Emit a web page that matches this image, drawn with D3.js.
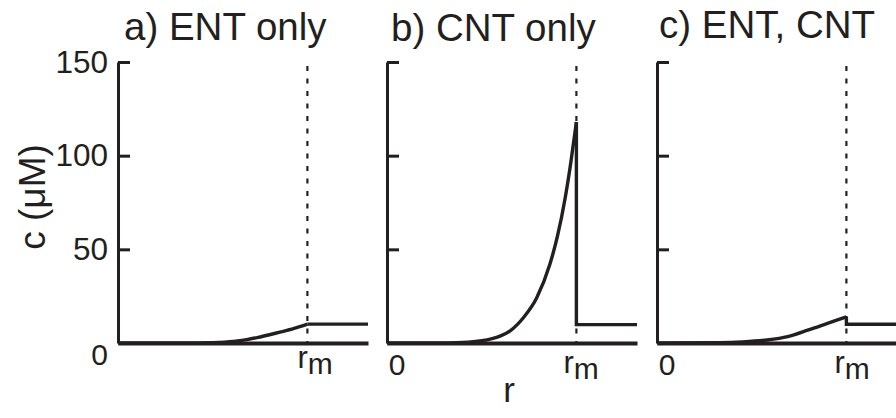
<!DOCTYPE html>
<html>
<head>
<meta charset="utf-8">
<script src="https://cdn.jsdelivr.net/npm/d3@7"></script>
<style>
  html, body { margin: 0; padding: 0; background: #fff; }
  svg { display: block; font-family: "Liberation Sans", Arial, Helvetica, sans-serif; }
</style>
</head>
<body>
<svg id="chart" width="896" height="418"></svg>
<script>
// ---- data (r in units of r_m, c in µM) ----
const panelTitles = ["a) ENT only", "b) CNT only", "c) ENT, CNT"];
const yTicks = [0, 50, 100, 150];
const rMax = 1.32;
const rM = 1.0;

const rA = [0, 0.34, 0.5, 0.61, 0.68, 0.74, 0.8, 0.86, 0.93, 1.0];
const cA = [0, 0, 0.2, 0.8, 1.8, 3.0, 4.4, 5.9, 7.8, 10.1];
const outsideA = 10.1;

const rB = [0, 0.26, 0.4, 0.5, 0.55, 0.6, 0.65, 0.72, 0.79, 0.86, 0.9, 0.94, 0.97, 1.0];
const cB = [0, 0, 0.3, 1.2, 2.2, 3.8, 6.5, 13.5, 24, 42, 57, 77, 96, 118];
const outsideB = 9.8;

const rC = [0, 0.33, 0.45, 0.58, 0.69, 0.8, 0.9, 1.0];
const cC = [0, 0.2, 0.6, 1.6, 3.4, 7, 10.5, 14];
const outsideC = 10.0;

const series = [
  { r: rA, c: cA, out: outsideA },
  { r: rB, c: cB, out: outsideB },
  { r: rC, c: cC, out: outsideC }
];

// ---- layout ----
const svg = d3.select("#chart");
const panelX0 = [118, 387, 657];
const panelW = 250;
const yTop = 62, yBot = 343;
const ink = "#231f20";

const y = d3.scaleLinear().domain([0, 150]).range([yBot, yTop]);

series.forEach((s, i) => {
  const x0 = panelX0[i];
  const x = d3.scaleLinear().domain([0, rMax]).range([x0, x0 + panelW]);
  const g = svg.append("g");

  // title
  const titleX = [124, 391, 659][i];
  const titleY = [40, 41, 38][i];
  g.append("text").attr("x", titleX).attr("y", titleY)
    .attr("font-size", 38.5).attr("fill", ink)
    .text(panelTitles[i]);

  // dashed r_m line
  g.append("line")
    .attr("x1", x(rM)).attr("x2", x(rM))
    .attr("y1", yTop + 4).attr("y2", yBot)
    .attr("stroke", ink).attr("stroke-width", 2.2)
    .attr("stroke-dasharray", "5,7.5");

  // y axis
  const yAxis = d3.axisLeft(y).tickValues(yTicks)
    .tickSizeInner(-12).tickSizeOuter(0).tickPadding(10)
    .tickFormat(i === 0 ? d3.format("d") : "");
  const ya = g.append("g").attr("transform", `translate(${x0},0)`).call(yAxis);
  ya.select(".domain").attr("stroke", ink).attr("stroke-width", 3);
  ya.selectAll(".tick line").attr("stroke", ink).attr("stroke-width", 3);
  ya.selectAll(".tick text").attr("font-size", 31.5).attr("fill", ink)
    .attr("font-family", "Liberation Sans, Arial, sans-serif");
  ya.selectAll(".tick").filter(d => d === 0).select("line").remove();
  ya.selectAll(".tick").filter(d => d === 0).select("text")
    .attr("dy", "0.72em").attr("font-size", 30);

  // x axis (baseline)
  const xAxis = d3.axisBottom(x).tickValues([]).tickSizeOuter(0);
  const xa = g.append("g").attr("transform", `translate(0,${yBot})`).call(xAxis);
  xa.select(".domain").attr("stroke", ink).attr("stroke-width", 4);

  // x labels
  if (i > 0) {
    g.append("text").attr("x", x(0) + 10).attr("y", 375)
      .attr("text-anchor", "middle").attr("font-size", 30).attr("fill", ink)
      .text("0");
  }
  const rmLabel = g.append("text").attr("x", x(rM) - [10, 13, 12][i]).attr("y", [368, 373, 373][i])
    .attr("font-size", 31).attr("fill", ink);
  rmLabel.append("tspan").text("r");
  rmLabel.append("tspan").attr("dy", 6).attr("font-size", 30).text("m");

  // curve inside
  const pts = s.r.map((r, k) => [r, s.c[k]]);
  const line = d3.line().x(d => x(d[0])).y(d => y(d[1])).curve(d3.curveMonotoneX);
  g.append("path").datum(pts).attr("d", line)
    .attr("fill", "none").attr("stroke", ink).attr("stroke-width", 3.4)
    .attr("stroke-linejoin", "round");

  // drop at r_m and flat outside
  const outPts = [[rM, s.c[s.c.length - 1]], [rM, s.out], [rMax, s.out]];
  g.append("path").datum(outPts)
    .attr("d", d3.line().x(d => x(d[0])).y(d => y(d[1])))
    .attr("fill", "none").attr("stroke", ink).attr("stroke-width", 3.4);
});

// y label
svg.append("text")
  .attr("transform", `translate(45,197) rotate(-90)`)
  .attr("text-anchor", "middle").attr("font-size", 37).attr("fill", ink)
  .text("c (\u03BCM)");

// x label
svg.append("text").attr("x", 509).attr("y", 402)
  .attr("text-anchor", "middle").attr("font-size", 35).attr("fill", ink)
  .text("r");
</script>
</body>
</html>
